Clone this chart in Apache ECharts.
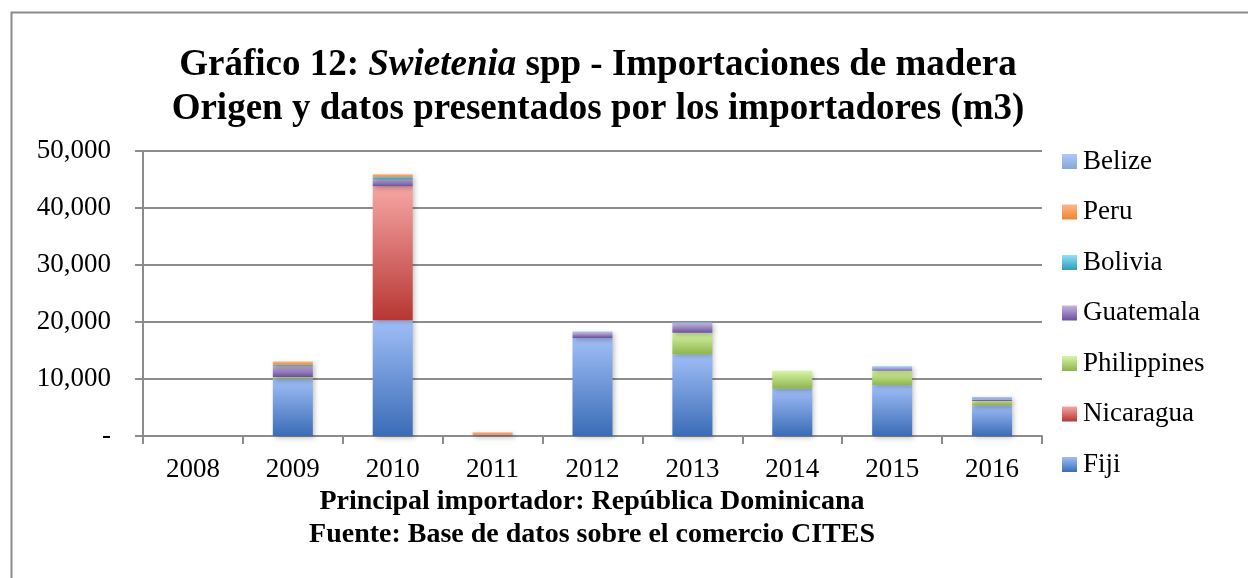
<!DOCTYPE html>
<html>
<head>
<meta charset="utf-8">
<script src="https://cdn.jsdelivr.net/npm/echarts@6/dist/echarts.min.js"></script>
<style>
  html, body { margin: 0; padding: 0; background: #fff; }
  #chart { width: 1248px; height: 578px; }
</style>
</head>
<body>
<div id="chart"></div>
<script>
const years = ['2008', '2009', '2010', '2011', '2012', '2013', '2014', '2015', '2016'];
const fiji = [0, 10000, 20300, 100, 17200, 14300, 8300, 8900, 5350];
const nicaragua = [0, 0, 23500, 0, 0, 0, 0, 0, 0];
const philippines = [0, 350, 0, 0, 0, 3800, 3150, 2600, 800];
const guatemala = [0, 1900, 1200, 100, 900, 1550, 0, 250, 300];
const bolivia = [0, 250, 500, 0, 0, 0, 0, 0, 0];
const peru = [0, 550, 400, 450, 0, 0, 0, 0, 0];
const belize = [0, 0, 0, 0, 250, 250, 0, 500, 400];
const yTicks = [0, 10000, 20000, 30000, 40000, 50000];

const font = '"Liberation Serif", serif';

function grad(top, bottom) {
  return new echarts.graphic.LinearGradient(0, 0, 0, 1, [
    { offset: 0, color: top },
    { offset: 1, color: bottom }
  ]);
}

// bottom to top of the stack
const seriesDefs = [
  ['Fiji', fiji, '#a0bef7', '#3a6cb6'],
  ['Nicaragua', nicaragua, '#f6a6a4', '#b73633'],
  ['Philippines', philippines, '#d8f5a6', '#8db44c'],
  ['Guatemala', guatemala, '#c6b5e2', '#6a4e9c'],
  ['Bolivia', bolivia, '#90e2f7', '#2f9bba'],
  ['Peru', peru, '#fdb886', '#f0822f'],
  ['Belize', belize, '#adc9f8', '#87a6db']
];

const chart = echarts.init(document.getElementById('chart'));

chart.setOption({
  backgroundColor: '#fff',
  animation: false,
  title: {
    left: 598,
    textAlign: 'center',
    top: 43,
    padding: 0,
    text: '{b|Gráfico 12: }{i|Swietenia}{b| spp - Importaciones de madera}\n{b|Origen y datos presentados por los importadores (m3)}',
    textStyle: {
      rich: {
        b: { fontFamily: font, fontWeight: 'bold', fontSize: 37, color: '#000', lineHeight: 44 },
        i: { fontFamily: font, fontWeight: 'bold', fontStyle: 'italic', fontSize: 37, color: '#000', lineHeight: 44 }
      }
    }
  },
  graphic: [
    {
      type: 'rect',
      shape: { x: 11.5, y: 12.5, width: 1260, height: 600 },
      style: { fill: 'none', stroke: '#8c8c8c', lineWidth: 2 },
      silent: true
    },
    {
      type: 'text',
      x: 592,
      y: 502,
      style: {
        text: 'Principal importador: República Dominicana',
        font: 'bold 28px "Liberation Serif", serif',
        fill: '#000', textAlign: 'center', textVerticalAlign: 'middle'
      }
    },
    {
      type: 'text',
      x: 592,
      y: 535,
      style: {
        text: 'Fuente: Base de datos sobre el comercio CITES',
        font: 'bold 28px "Liberation Serif", serif',
        fill: '#000', textAlign: 'center', textVerticalAlign: 'middle'
      }
    }
  ],
  legend: {
    orient: 'vertical',
    left: 1062,
    top: 148,
    padding: 0,
    itemWidth: 15,
    itemHeight: 15,
    itemGap: 23.5,
    icon: 'rect',
    data: ['Belize', 'Peru', 'Bolivia', 'Guatemala', 'Philippines', 'Nicaragua', 'Fiji'],
    textStyle: { fontFamily: font, fontSize: 27, color: '#000', padding: [0, 0, 0, 1] }
  },
  grid: { left: 143, right: 206, top: 151, bottom: 142 },
  xAxis: {
    type: 'category',
    data: years,
    axisLine: { lineStyle: { color: '#8c8c8c', width: 2 } },
    axisTick: { show: true, length: 8, lineStyle: { color: '#8c8c8c', width: 2 } },
    axisLabel: { fontFamily: font, fontSize: 27, color: '#000', margin: 20 }
  },
  yAxis: {
    type: 'value',
    min: yTicks[0],
    max: yTicks[yTicks.length - 1],
    interval: 10000,
    axisLine: { show: true, lineStyle: { color: '#8c8c8c', width: 2 } },
    axisTick: { show: true, length: 8, lineStyle: { color: '#8c8c8c', width: 2 } },
    splitLine: { lineStyle: { color: '#8c8c8c', width: 2 } },
    axisLabel: {
      fontFamily: font, fontSize: 27, color: '#000', margin: 32,
      formatter: v => v === 0 ? '-' : v.toLocaleString('en-US')
    }
  },
  series: seriesDefs.map(([name, data, top, bottom]) => ({
    name,
    type: 'bar',
    stack: 'total',
    barWidth: 40,
    data,
    itemStyle: {
      color: grad(top, bottom),
      shadowColor: 'rgba(0,0,0,0.25)',
      shadowBlur: 5,
      shadowOffsetX: 2,
      shadowOffsetY: 2
    }
  }))
});
</script>
</body>
</html>
